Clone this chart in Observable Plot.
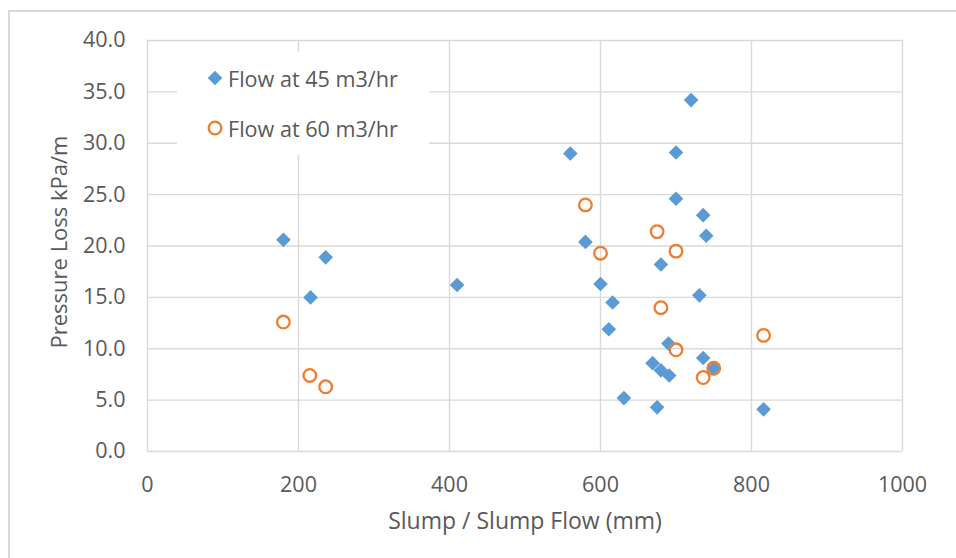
<!DOCTYPE html>
<html>
<head>
<meta charset="utf-8">
<script src="https://cdn.jsdelivr.net/npm/d3@7"></script>
<script src="https://cdn.jsdelivr.net/npm/@observablehq/plot@0.6"></script>
<style>
  html, body { margin: 0; padding: 0; background: #fff; overflow: hidden; }
  #wrap { position: relative; width: 956px; height: 558px; overflow: hidden; }
  #border { position: absolute; left: 8px; top: 10px; width: 1000px; height: 600px; border: 2px solid #d9d9d9; box-sizing: border-box; }
  #chart { position: absolute; left: 0; top: 0; }
  #legend { position: absolute; left: 177px; top: 52px; width: 252px; height: 103px; background: #fff;
            font-family: "Open Sans", sans-serif; font-size: 21.6px; color: #595959; }
  .item { position: absolute; left: 30px; display: flex; align-items: center; height: 28px; }
  .item svg { margin-right: 5px; }
</style>
</head>
<body>
<div id="wrap">
  <div id="border"></div>
  <div id="chart"></div>
  <div id="legend"></div>
</div>
<script>
// Series: Flow at 45 m3/hr
const flow45X = [180, 236, 216, 410, 560, 720, 700, 700, 736, 740, 580, 680, 600, 731, 616, 611, 690, 669, 680, 691, 736, 750, 631, 675, 816];
const flow45Y = [20.6, 18.9, 15.0, 16.2, 29.0, 34.2, 29.1, 24.6, 23.0, 21.0, 20.4, 18.2, 16.3, 15.2, 14.5, 11.9, 10.5, 8.6, 7.9, 7.4, 9.1, 8.1, 5.2, 4.3, 4.1];
// Series: Flow at 60 m3/hr
const flow60X = [180, 215, 236, 580, 675, 700, 600, 680, 816, 700, 750, 736];
const flow60Y = [12.6, 7.4, 6.3, 24.0, 21.4, 19.5, 19.3, 14.0, 11.3, 9.9, 8.1, 7.2];

const seriesNames = ["Flow at 45 m3/hr", "Flow at 60 m3/hr"];
const xTicks = [0, 200, 400, 600, 800, 1000];
const yTicks = [0, 5, 10, 15, 20, 25, 30, 35, 40];
const xTitle = "Slump / Slump Flow (mm)";
const yTitle = "Pressure Loss kPa/m";

const blue = "#5B9BD5";
const orange = "#ED7D31";
const textColor = "#595959";
const gridColor = "#d9d9d9";

const s45 = flow45X.map((x, i) => ({x, y: flow45Y[i]}));
const s60 = flow60X.map((x, i) => ({x, y: flow60Y[i]}));

const chart = Plot.plot({
  width: 956,
  height: 558,
  marginLeft: 147,
  marginRight: 54,
  marginTop: 40,
  marginBottom: 107,
  style: { fontFamily: "'Open Sans', sans-serif", fontSize: "21px", color: textColor, background: "transparent", overflow: "visible" },
  x: { domain: [0, 1000] },
  y: { domain: [0, 40] },
  marks: [
    Plot.gridX(xTicks, { stroke: gridColor, strokeOpacity: 1, strokeWidth: 1.4 }),
    Plot.gridY(yTicks, { stroke: gridColor, strokeOpacity: 1, strokeWidth: 1.4 }),
    Plot.axisX(xTicks, { tickSize: 0, tickPadding: 25, tickFormat: d3.format("d"), label: null, fontSize: 21.5, fill: textColor }),
    Plot.axisY(yTicks, { tickSize: 0, tickPadding: 22, tickFormat: d3.format(".1f"), label: null, fontSize: 21.5, fill: textColor }),
    Plot.text([xTitle], { frameAnchor: "bottom", lineAnchor: "middle", dy: 70, fontSize: 23, fill: textColor }),
    Plot.text([yTitle], { frameAnchor: "left", textAnchor: "middle", lineAnchor: "middle", rotate: -90, dx: -88, dy: -4, fontSize: 22, fill: textColor }),
    Plot.dot(s45, { x: "x", y: "y", symbol: "diamond2", r: 6.6, fill: blue, stroke: "none" }),
    Plot.dot(s60, { x: "x", y: "y", symbol: "circle", r: 6.3, fill: "none", stroke: orange, strokeWidth: 2.3 })
  ]
});
document.getElementById("chart").appendChild(chart);

// Legend
const legend = document.getElementById("legend");
const items = [
  { name: seriesNames[0], top: 12, svg: `<svg width="16" height="16" viewBox="-8 -8 16 16"><path d="M0,-7.3L7.3,0L0,7.3L-7.3,0Z" fill="${blue}"/></svg>` },
  { name: seriesNames[1], top: 62, svg: `<svg width="16" height="16" viewBox="-8 -8 16 16"><circle r="6.3" fill="none" stroke="${orange}" stroke-width="2.3"/></svg>` }
];
for (const it of items) {
  const d = document.createElement("div");
  d.className = "item";
  d.style.top = it.top + "px";
  d.innerHTML = it.svg + `<span>${it.name}</span>`;
  legend.appendChild(d);
}
</script>
</body>
</html>
